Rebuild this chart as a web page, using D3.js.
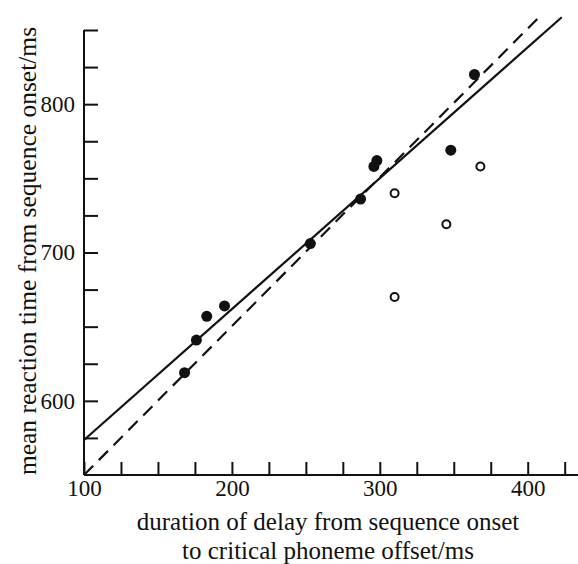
<!DOCTYPE html>
<html>
<head>
<meta charset="utf-8">
<script src="https://cdn.jsdelivr.net/npm/d3@7"></script>
<style>
  body { margin: 0; background: #fff; }
  text { font-family: "Liberation Serif", "DejaVu Serif", serif; fill: #111; }
</style>
</head>
<body>
<script>
// datos
const puntosLlenos = [
  [168, 619], [176, 641], [183, 657], [195, 664], [253, 706],
  [287, 736], [296, 758], [298, 762], [348, 769], [364, 820]
];
const puntosVacios = [
  [310, 740], [345, 719], [368, 758], [310, 670]
];
const lineaContinua = [[100, 573.6], [423, 858.6]];
const lineaDiscontinua = [[100, 550], [407, 858]];

const ticksX = [100, 125, 150, 175, 200, 225, 250, 275, 300, 325, 350, 375, 400, 425];
const etiquetasX = [100, 200, 300, 400];
const ticksY = [575, 600, 625, 650, 675, 700, 725, 750, 775, 800, 825, 850];
const etiquetasY = [600, 700, 800];

const tituloX = ["duration of delay from sequence onset", "to critical phoneme offset/ms"];
const tituloY = "mean reaction time from sequence onset/ms";

let width = 578;
let height = 564;
let margin = { top: 30, bottom: 89, left: 84, right: 0 };

let escalaX = d3.scaleLinear()
                .domain([100, 434])
                .range([margin.left, width - margin.right]);

let escalaY = d3.scaleLinear()
                .domain([550, 850])
                .range([height - margin.bottom, margin.top]);

let svg = d3.select("body")
            .append("svg")
            .attr("width", width)
            .attr("height", height);

/* Eje X */
let ejeX = d3.axisBottom(escalaX)
             .tickValues(ticksX)
             .tickSizeInner(-13)
             .tickSizeOuter(0)
             .tickPadding(5)
             .tickFormat(d => etiquetasX.includes(d) ? d : "");

let gX = svg.append("g")
            .attr("transform", "translate(0," + escalaY(550) + ")")
            .call(ejeX);

/* Eje Y */
let ejeY = d3.axisLeft(escalaY)
             .tickValues(ticksY)
             .tickSizeInner(-14)
             .tickSizeOuter(0)
             .tickPadding(9)
             .tickFormat(d => etiquetasY.includes(d) ? d : "");

let gY = svg.append("g")
            .attr("transform", "translate(" + escalaX(100) + ",0)")
            .call(ejeY);

[gX, gY].forEach(g => {
  g.select(".domain").attr("stroke", "#111").attr("stroke-width", 2);
  g.selectAll(".tick line").attr("stroke", "#111").attr("stroke-width", 2);
  g.selectAll(".tick text")
   .style("font-family", "'Liberation Serif', serif")
   .style("font-size", "23px")
   .attr("fill", "#111");
});
// el eje Y empieza en la esquina
gY.select(".domain").attr("d", "M0," + escalaY(550) + "V" + escalaY(850));
gX.select(".domain").attr("d", "M" + escalaX(100) + ",0H" + width);

/* Lineas */
let linea = d3.line()
              .x(d => escalaX(d[0]))
              .y(d => escalaY(d[1]));

svg.append("path")
   .datum(lineaContinua)
   .attr("d", linea)
   .attr("fill", "none")
   .attr("stroke", "#111")
   .attr("stroke-width", 2.2);

svg.append("path")
   .datum(lineaDiscontinua)
   .attr("d", linea)
   .attr("fill", "none")
   .attr("stroke", "#111")
   .attr("stroke-width", 2.2)
   .attr("stroke-dasharray", "13,8");

/* Puntos */
svg.selectAll("circle.lleno")
   .data(puntosLlenos)
   .join("circle")
   .attr("class", "lleno")
   .attr("cx", d => escalaX(d[0]))
   .attr("cy", d => escalaY(d[1]))
   .attr("r", 5.5)
   .attr("fill", "#111");

svg.selectAll("circle.vacio")
   .data(puntosVacios)
   .join("circle")
   .attr("class", "vacio")
   .attr("cx", d => escalaX(d[0]))
   .attr("cy", d => escalaY(d[1]))
   .attr("r", 4)
   .attr("fill", "#fff")
   .attr("stroke", "#111")
   .attr("stroke-width", 2);

/* Titulos */
svg.selectAll("text.tituloX")
   .data(tituloX)
   .join("text")
   .attr("class", "tituloX")
   .attr("x", 328)
   .attr("y", (d, i) => 530 + i * 29)
   .attr("text-anchor", "middle")
   .style("font-size", "25px")
   .text(d => d);

svg.append("text")
   .attr("transform", "translate(36,251) rotate(-90)")
   .attr("text-anchor", "middle")
   .style("font-size", "25.5px")
   .text(tituloY);
</script>
</body>
</html>
